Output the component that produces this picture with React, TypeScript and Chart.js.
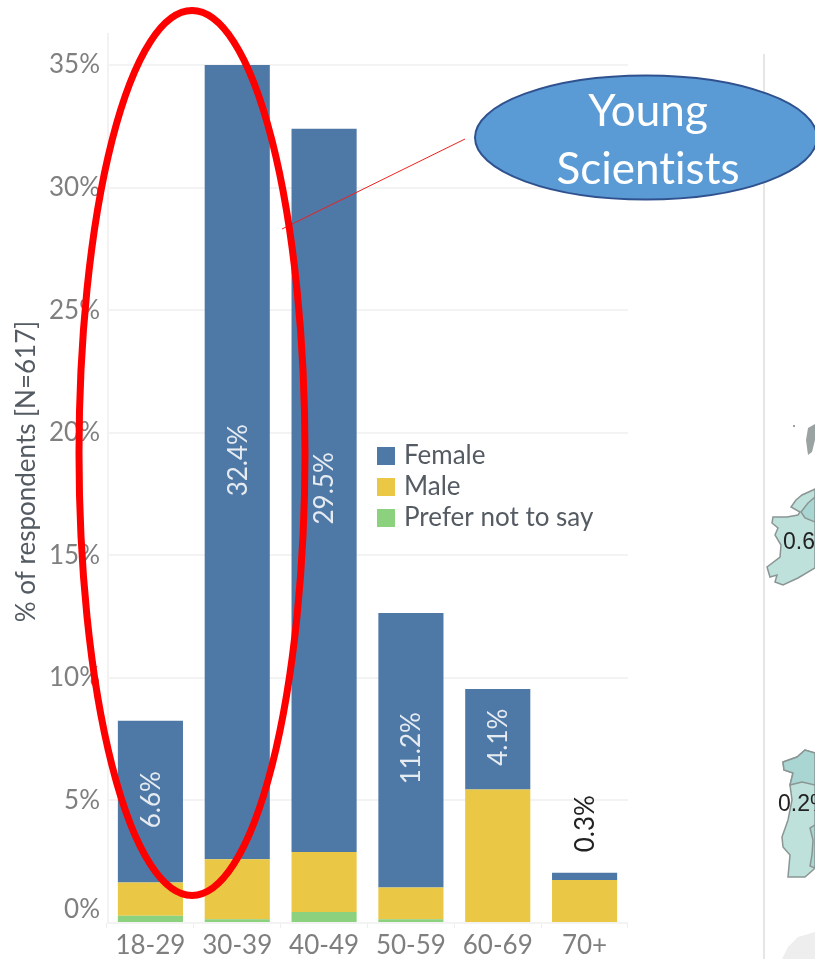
import React, { useEffect, useRef } from "react";
import { Chart, registerables } from "chart.js";

Chart.register(...registerables);

const ageGroups = ["18-29", "30-39", "40-49", "50-59", "60-69", "70+"];
const femaleValues = [6.6, 32.4, 29.5, 11.2, 4.1, 0.3];
const maleValues = [1.35, 2.45, 2.45, 1.3, 5.45, 1.75];
const preferNotValues = [0.3, 0.15, 0.45, 0.15, 0, 0];
const yTickStep = 5;

const FONT = "Lato, sans-serif";
const GREY = "#7f7f7f";

const ireland: number[][] = [[815, 489], [813, 490], [802, 495], [796, 500], [791, 507], [800, 512], [798, 515], [787, 517], [773, 517], [772, 523], [778, 528], [775, 535], [781, 545], [780, 557], [767, 567], [770, 577], [777, 575], [775, 582], [783, 585], [798, 578], [815, 568]];
const northernIreland: number[][] = [[815, 497], [808, 503], [801, 512], [805, 518], [815, 522]];
const iberia: number[][] = [[815, 753], [805, 750], [797, 757], [783, 762], [784, 770], [793, 773], [790, 785], [792, 800], [788, 820], [782, 837], [783, 847], [790, 855], [788, 877], [805, 877], [813, 870], [815, 868]];
const greyLand: number[][] = [[782, 959], [788, 947], [798, 937], [815, 932], [815, 959]];
const isle: number[][] = [[815, 424], [808, 428], [806, 440], [808, 455], [812, 452], [815, 440]];

function poly(ctx: CanvasRenderingContext2D, pts: number[][], close = true) {
  ctx.beginPath();
  pts.forEach(([x, y], i) => (i ? ctx.lineTo(x, y) : ctx.moveTo(x, y)));
  if (close) ctx.closePath();
}

const legendPlacement = {
  id: "legendPlacement",
  afterLayout(chart: any) {
    const l = chart.legend;
    const pad = l.options.labels.padding;
    l.left = 381 - pad;
    l.right = l.left + l.width;
    l.top = 443 - pad;
    l.bottom = l.top + l.height;
  },
};

const barLabels = {
  id: "barLabels",
  afterDatasetsDraw(chart: any) {
    const { ctx } = chart;
    const femaleIndex = chart.data.datasets.findIndex((d: any) => d.label === "Female");
    const meta = chart.getDatasetMeta(femaleIndex);
    ctx.save();
    ctx.font = `26px ${FONT}`;
    ctx.textAlign = "center";
    ctx.textBaseline = "middle";
    meta.data.forEach((bar: any, i: number) => {
      const h = Math.abs(bar.base - bar.y);
      const inside = h > 30;
      const text = femaleValues[i].toFixed(1) + "%";
      ctx.save();
      ctx.translate(bar.x + 1, inside ? (bar.y + bar.base) / 2 - 2 : bar.y - 49);
      ctx.rotate(-Math.PI / 2);
      ctx.fillStyle = inside ? "#e6ebf1" : "#222222";
      ctx.fillText(text, 0, 0);
      ctx.restore();
    });
    ctx.restore();
  },
};

const decorations = {
  id: "decorations",
  afterDraw(chart: any) {
    const { ctx } = chart;
    ctx.save();
    // y axis line and right-hand panel divider
    ctx.strokeStyle = "#f2f2f2";
    ctx.lineWidth = 2;
    ctx.beginPath();
    ctx.moveTo(108, 33);
    ctx.lineTo(108, 923);
    ctx.stroke();
    ctx.strokeStyle = "#e6e6e6";
    ctx.beginPath();
    ctx.moveTo(764, 54);
    ctx.lineTo(764, 959);
    ctx.stroke();

    // map fragments
    ctx.fillStyle = "#eeeeee";
    poly(ctx, greyLand);
    ctx.fill();
    ctx.strokeStyle = "#8b9694";
    ctx.lineWidth = 1.5;
    ctx.fillStyle = "#bfe1dc";
    poly(ctx, ireland);
    ctx.fill();
    ctx.stroke();
    ctx.fillStyle = "#a9d6d2";
    poly(ctx, northernIreland);
    ctx.fill();
    ctx.stroke();
    ctx.fillStyle = "#bfe1dc";
    poly(ctx, iberia);
    ctx.fill();
    ctx.stroke();
    ctx.fillStyle = "#a9d6d2";
    poly(ctx, [[815, 753], [805, 750], [797, 757], [783, 762], [784, 770], [793, 773], [790, 785], [802, 782], [815, 785]]);
    ctx.fill();
    ctx.stroke();
    poly(ctx, [[815, 825], [810, 828], [813, 840], [812, 855], [810, 866], [815, 868]]);
    ctx.fill();
    ctx.stroke();
    ctx.fillStyle = "#9aa3a1";
    poly(ctx, isle);
    ctx.fill();
    ctx.fillRect(793, 425, 2, 2);

    ctx.fillStyle = "#222222";
    ctx.font = "23px 'Liberation Sans', sans-serif";
    ctx.textAlign = "left";
    ctx.textBaseline = "middle";
    ctx.fillText("0.6", 783, 543);
    ctx.fillText("0.2%", 778, 805);

    // callout
    ctx.strokeStyle = "#ee2020";
    ctx.lineWidth = 1;
    ctx.beginPath();
    ctx.moveTo(282, 229);
    ctx.lineTo(465, 139);
    ctx.stroke();

    ctx.beginPath();
    ctx.ellipse(646, 137.5, 171, 62, 0, 0, Math.PI * 2);
    ctx.fillStyle = "#5b9bd5";
    ctx.fill();
    ctx.strokeStyle = "#2f528f";
    ctx.lineWidth = 2;
    ctx.stroke();

    ctx.fillStyle = "#ffffff";
    ctx.font = `44px ${FONT}`;
    ctx.textAlign = "center";
    ctx.textBaseline = "middle";
    (ctx as any).textRendering = "optimizeSpeed";
    ctx.fillText("Young", 648, 112);
    ctx.fillText("Scientists", 648, 170);

    // red highlight ellipse
    ctx.beginPath();
    ctx.ellipse(192, 453, 113, 442.5, 0, 0, Math.PI * 2);
    ctx.strokeStyle = "#ff0000";
    ctx.lineWidth = 7;
    ctx.stroke();
    ctx.restore();
  },
};

export default function App() {
  const ref = useRef<HTMLCanvasElement | null>(null);
  useEffect(() => {
    if (!ref.current) return;
    const chart = new Chart(ref.current, {
      type: "bar",
      data: {
        labels: ageGroups,
        datasets: [
          { label: "Prefer not to say", data: preferNotValues, backgroundColor: "#8cd17d" },
          { label: "Male", data: maleValues, backgroundColor: "#eac845" },
          { label: "Female", data: femaleValues, backgroundColor: "#4e79a7" },
        ],
      },
      options: {
        responsive: false,
        animation: false,
        layout: { padding: { top: 15, right: 187, bottom: 0, left: 0 } },
        datasets: { bar: { barPercentage: 1, categoryPercentage: 0.75 } },
        plugins: {
          title: { display: false },
          tooltip: { enabled: false },
          legend: {
            position: "chartArea",
            align: "start",
            reverse: true,
            labels: {
              boxWidth: 10,
              boxHeight: 10,
              padding: 5,
              color: "#555b63",
              font: { family: FONT, size: 26 },
              generateLabels: (chart: any) =>
                Chart.defaults.plugins.legend.labels
                  .generateLabels(chart)
                  .map((item: any) => ({ ...item, strokeStyle: item.fillStyle, lineWidth: 8 })),
            },
          },
        },
        scales: {
          x: {
            stacked: true,
            afterFit: (s: any) => { s.height = 36; },
            grid: { drawOnChartArea: false, drawTicks: true, tickLength: 5, color: "#eeeeee" },
            border: { display: false },
            ticks: { color: GREY, padding: 3, maxRotation: 0, autoSkip: false, font: { family: FONT, size: 26, lineHeight: 1.1 } },
          },
          y: {
            stacked: true,
            min: 0,
            max: 36.84,
            afterFit: (s: any) => { s.width = 107; },
            grid: { color: "#f3f3f3", lineWidth: 2, drawTicks: false },
            border: { display: false },
            title: {
              display: true,
              text: "% of respondents [N=617]",
              color: "#555b63",
              padding: { top: 11, bottom: 0 },
              font: { family: FONT, size: 26 },
            },
            ticks: {
              stepSize: yTickStep,
              includeBounds: false,
              color: GREY,
              padding: 7,
              font: { family: FONT, size: 26, lineHeight: 1 },
              callback: (v: any) => (v === 0 ? ["0%", ""] : `${v}%`),
            },
          },
        },
      },
      plugins: [legendPlacement, barLabels, decorations],
    } as any);
    return () => chart.destroy();
  }, []);
  return (
    <div style={{ position: "absolute", left: 0, top: 0, width: 815, height: 959, overflow: "hidden", background: "#fff" }}>
      <canvas ref={ref} width={815} height={959} style={{ display: "block" }} />
    </div>
  );
}
